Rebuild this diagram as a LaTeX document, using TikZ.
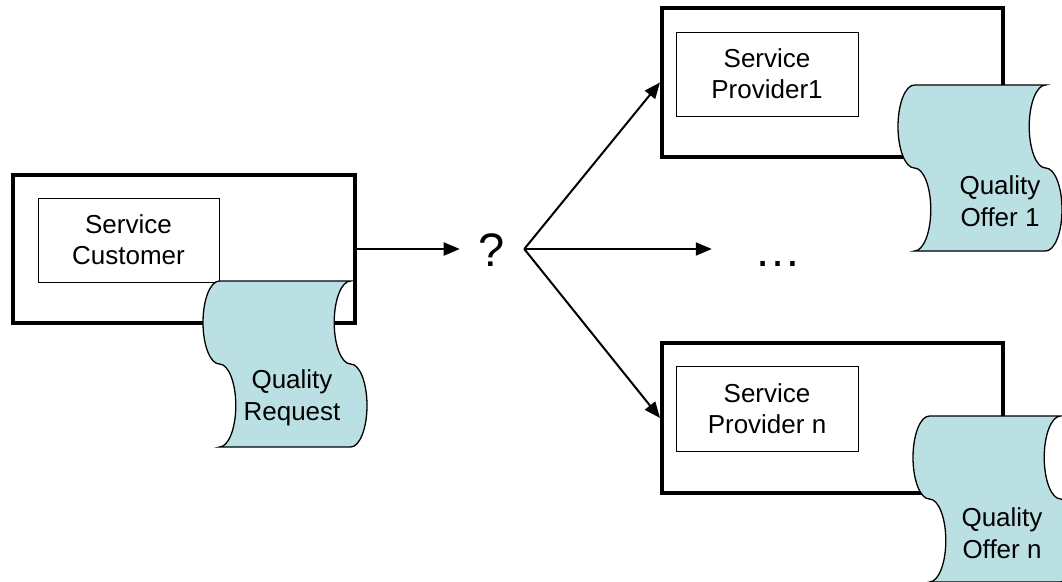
\documentclass[tikz,border=0pt]{standalone}
\usepackage{fontspec}
\setmainfont{Liberation Sans}
\usetikzlibrary{arrows.meta}
\definecolor{scrollfill}{RGB}{187,224,227}
\tikzset{
  outerbox/.style={draw=black, line width=4pt, fill=white, inner sep=0pt},
  innerbox/.style={draw=black, line width=1pt, fill=white, inner sep=0pt, align=center,
    font=\fontsize{26}{31}\selectfont},
  scrolltext/.style={align=center, font=\fontsize{26}{32}\selectfont, inner sep=0pt},
  bigtext/.style={font=\fontsize{47}{50}\selectfont, anchor=base, text height=34pt, text depth=0pt, inner ysep=0pt},
  arr/.style={line width=2pt, -{Triangle[length=16pt,width=13pt]}},
  scrollline/.style={draw=black, line width=1.3pt, fill=scrollfill},
  scroll/.pic={
    \path[scrollline] (16.4,0) -- (147.6,0)
      .. controls (138.54,0) and (131.2,18.6) .. (131.2,41.5)
      .. controls (131.2,64.4) and (138.54,83) .. (147.6,83)
      .. controls (156.66,83) and (164,101.6) .. (164,124.5)
      .. controls (164,147.4) and (156.66,166) .. (147.6,166)
      -- (16.4,166)
      .. controls (25.46,166) and (32.8,147.4) .. (32.8,124.5)
      .. controls (32.8,101.6) and (25.46,83) .. (16.4,83)
      .. controls (7.34,83) and (0,64.4) .. (0,41.5)
      .. controls (0,18.6) and (7.34,0) .. (16.4,0) -- cycle;
  }
}
\begin{document}
\begin{tikzpicture}[x=1pt,y=-1pt]
\useasboundingbox (0,0) rectangle (1062,581);
\clip (0,0) rectangle (1062,581);

% customer
\node[outerbox, minimum width=342pt, minimum height=148pt] (cust) at (184,249) {};
\node[innerbox, minimum width=181pt, minimum height=84pt] (custin) at (128.5,240) {Service\\Customer};
\pic at (203,281) {scroll};
\node[scrolltext] (req) at (292,398) {Quality\\Request};

% provider 1
\node[outerbox, minimum width=341pt, minimum height=149pt] (p1) at (832.5,82.5) {};
\node[innerbox, minimum width=182pt, minimum height=84pt] (p1in) at (767,74) {Service\\Provider1};
\pic at (898,85) {scroll};
\node[scrolltext] (off1) at (1000,201) {Quality\\Offer 1};

% provider n
\node[outerbox, minimum width=341pt, minimum height=150pt] (pn) at (832.5,418) {};
\node[innerbox, minimum width=182pt, minimum height=85pt] (pnin) at (767,408.5) {Service\\Provider n};
\pic at (913,416) {scroll};
\node[scrolltext] (offn) at (1002,533) {Quality\\Offer n};

% question mark and dots
\node[bigtext, inner xsep=19pt] (q) at (492,266) {?};
\node[bigtext, inner xsep=42.5pt] (dots) at (778,266) {…};

% connectors
\draw[arr] (cust.east) -- (q.west);
\draw[arr] (q.east) -- (p1.west);
\draw[arr] (q.east) -- (dots.west);
\draw[arr] (q.east) -- (pn.west);
\end{tikzpicture}
\end{document}
